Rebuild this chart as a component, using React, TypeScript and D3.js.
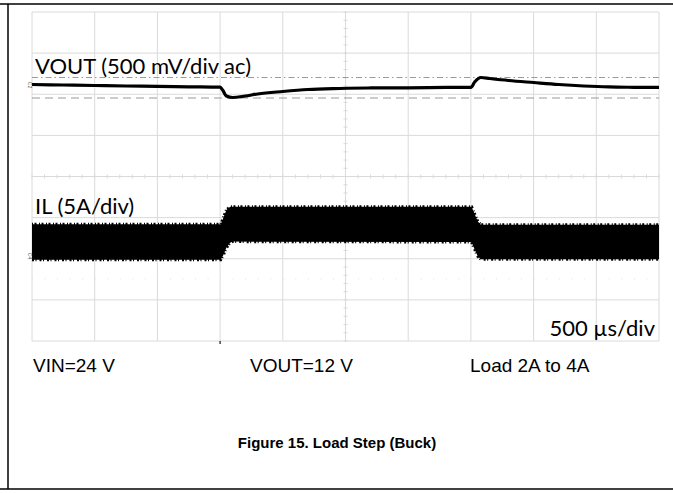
import * as d3 from "d3";

// time axis: 500 us/div, 10 divisions
const timeDomain = [0, 5000];

// VOUT trace (ac coupled), mV relative to the channel marker
const voutTime = [0, 250, 500, 750, 1000, 1250, 1500, 1520, 1550, 1600, 1700, 1800, 2000, 2200, 2400, 2700, 3000, 3300, 3500, 3530, 3580, 3650, 3800, 4000, 4200, 4400, 4600, 4800, 5000];
const voutMv = [6, 0, -6, -12, -16, -22, -27, -61, -134, -152, -134, -109, -79, -55, -43, -36, -34, -30, -28, 36, 91, 79, 55, 30, 6, -12, -24, -28, -30];

// VOUT cursors (mV): dash-dot at overshoot peak, dashed at undershoot
const cursorPeak = 91;
const cursorDip = -158;

// IL envelope (switching ripple), amps
const ilTime = [0, 1505, 1525, 1550, 1580, 1600, 3505, 3530, 3555, 3580, 5000];
const ilMax = [3.85, 3.85, 4.6, 5.6, 6.0, 6.0, 6.0, 5.1, 4.2, 3.8, 3.8];
const ilMin = [-0.45, -0.45, 0.1, 1.0, 1.6, 1.75, 1.7, 0.8, -0.05, -0.4, -0.4];

const triggerTime = 1500;

const scopeLabels = ["VOUT (500 mV/div ac)", "IL (5A/div)", "500 \u00b5s/div"];
const conditionLabels = ["VIN=24 V", "VOUT=12 V", "Load 2A to 4A"];
const title = "Figure 15. Load Step (Buck)";

const W = 673;
const H = 493;
const gx0 = 32, gx1 = 659, gy0 = 12, gy1 = 341;

// channel positions (divisions above screen centre)
const voutPos = 2.225;
const ilPos = -1.933;

export default function App() {
  const x = d3.scaleLinear().domain(timeDomain).range([gx0, gx1]);
  const div = d3.scaleLinear().domain([-4, 4]).range([gy1, gy0]);
  const vy = (mv: number) => div(voutPos + mv / 500);
  const iy = (a: number) => div(ilPos + a / 5);

  const xTicks = d3.range(0, 11).map((i) => timeDomain[0] + i * 500);
  const yTicks = d3.range(-4, 5);
  const minorX = d3.range(0, 51).map((i) => i * 100);
  const minorY = d3.range(-20, 21).map((i) => i / 5);

  const voutLine = d3
    .line<number>()
    .x((_, i) => x(voutTime[i]))
    .y((d) => vy(d))
    .curve(d3.curveMonotoneX);

  const ilArea = d3
    .area<number>()
    .x((_, i) => x(ilTime[i]))
    .y0((_, i) => iy(ilMin[i]))
    .y1((d) => iy(d));

  const ilEdge = d3.line<number>().x((_, i) => x(ilTime[i])).y((d) => iy(d));

  const cx = x(2500);
  const cy = div(0);
  const scopeFont = "Lato, 'Open Sans', sans-serif";

  return (
    <div style={{ position: "absolute", left: 0, top: 0 }}>
      <svg width={W} height={H} style={{ display: "block", background: "#fff" }}>
        {/* frame */}
        <line x1={0} x2={W} y1={4} y2={4} stroke="#000" strokeWidth={1.5} />
        <line x1={8} x2={8} y1={4} y2={489} stroke="#000" strokeWidth={1.5} />
        <line x1={0} x2={W} y1={489} y2={489} stroke="#000" strokeWidth={1.5} />

        {/* graticule */}
        <g stroke="#dadada" strokeWidth={1}>
          {xTicks.map((t) => (
            <line key={"vx" + t} x1={x(t)} x2={x(t)} y1={gy0} y2={gy1} />
          ))}
          {yTicks.map((d) => (
            <line key={"hy" + d} x1={gx0} x2={gx1} y1={div(d)} y2={div(d)} />
          ))}
          {minorX.map((t) => (
            <line key={"mx" + t} x1={x(t)} x2={x(t)} y1={cy - 2} y2={cy + 2} />
          ))}
          {minorY.map((d) => (
            <line key={"my" + d} x1={cx - 2} x2={cx + 2} y1={div(d)} y2={div(d)} />
          ))}
        </g>
        <line x1={gx0} x2={gx1} y1={279} y2={279} stroke="#e2e2e2" strokeDasharray="1 11.54" />

        {/* cursors */}
        <line x1={gx0} x2={gx1} y1={vy(cursorPeak)} y2={vy(cursorPeak)} stroke="#9a9a9a" strokeWidth={1.2} strokeDasharray="6 3 1.5 3" />
        <line x1={gx0} x2={gx1} y1={vy(cursorDip)} y2={vy(cursorDip)} stroke="#9a9a9a" strokeWidth={1.2} strokeDasharray="8 5" />

        {/* trigger marker */}
        <line x1={x(triggerTime)} x2={x(triggerTime)} y1={gy1} y2={gy1 + 3} stroke="#444" strokeWidth={1.5} />

        {/* VOUT trace */}
        <path d={voutLine(voutMv) ?? ""} fill="none" stroke="#000" strokeWidth={3.2} strokeLinejoin="round" />

        {/* IL ripple envelope */}
        <path d={ilArea(ilMax) ?? ""} fill="#000" />
        <path d={ilEdge(ilMax) ?? ""} fill="none" stroke="#000" strokeWidth={3} strokeDasharray="1 1.5 2 2.5" />
        <path d={ilEdge(ilMin) ?? ""} fill="none" stroke="#000" strokeWidth={3} strokeDasharray="2 1.5 1 3" />

        {/* channel markers */}
        <text x={29} y={vy(0)} fontSize={5} fontFamily="sans-serif" fill="#555" textAnchor="middle" transform={`rotate(90 29 ${vy(0)})`} dy={1.5}>C2</text>
        <text x={29} y={iy(0)} fontSize={5} fontFamily="sans-serif" fill="#555" textAnchor="middle" transform={`rotate(90 29 ${iy(0)})`} dy={1.5}>C4</text>

        {/* scope labels */}
        <text x={35} y={74} fontSize={22} fontFamily={scopeFont} fill="#000">{scopeLabels[0]}</text>
        <text x={35} y={214} fontSize={22} fontFamily={scopeFont} fill="#000">{scopeLabels[1]}</text>
        <text x={655} y={336} fontSize={22} fontFamily={scopeFont} fill="#000" textAnchor="end">{scopeLabels[2]}</text>

        {/* conditions */}
        <g fontSize={19} fontFamily="'Liberation Sans', Arial, sans-serif" fill="#000">
          <text x={33} y={372}>{conditionLabels[0]}</text>
          <text x={250} y={372}>{conditionLabels[1]}</text>
          <text x={470} y={372}>{conditionLabels[2]}</text>
        </g>

        <text x={337} y={448} fontSize={15} fontWeight="bold" fontFamily="'Liberation Sans', Arial, sans-serif" textAnchor="middle" fill="#000">
          {title}
        </text>
      </svg>
    </div>
  );
}
